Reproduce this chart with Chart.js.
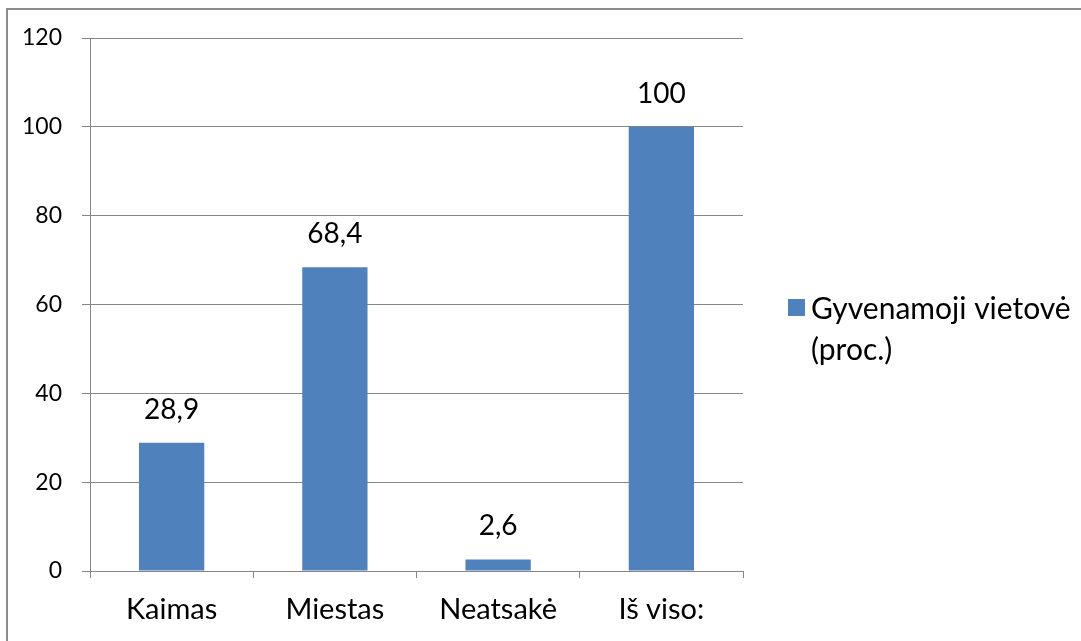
<!DOCTYPE html>
<html><head><meta charset="utf-8">
<script src="https://cdn.jsdelivr.net/npm/chart.js@4/dist/chart.umd.min.js"></script>
<style>html,body{margin:0;padding:0;background:#fff;overflow:hidden}#wrap{position:relative;width:1081px;height:641px}</style>
</head><body><div id="wrap"><canvas id="c" width="1081" height="641"></canvas></div>
<script>
const categories = ['Kaimas', 'Miestas', 'Neatsakė', 'Iš viso:'];
const values = [28.9, 68.4, 2.6, 100];
const valueLabels = ['28,9', '68,4', '2,6', '100'];
const seriesLabel = ['Gyvenamoji vietovė', '(proc.)'];
const yMin = 0, yMax = 120, yStep = 20;

const FONT = 'Lato';
const BAR = '#4f81bd';
const GRID = '#868686';

const framePlugin = {
  id: 'frame',
  beforeDraw(chart) {
    const ctx = chart.ctx;
    ctx.save();
    ctx.fillStyle = '#fff';
    ctx.fillRect(0, 0, chart.width, chart.height);
    ctx.strokeStyle = '#8c8c8c';
    ctx.lineWidth = 2;
    ctx.beginPath();
    ctx.moveTo(7, chart.height);
    ctx.lineTo(7, 9);
    ctx.lineTo(chart.width, 9);
    ctx.stroke();
    ctx.restore();
  }
};

const labelPlugin = {
  id: 'valLabels',
  afterDatasetsDraw(chart) {
    const ctx = chart.ctx;
    const meta = chart.getDatasetMeta(0);
    ctx.save();
    ctx.fillStyle = '#000';
    ctx.font = '28px ' + FONT;
    ctx.textAlign = 'center';
    ctx.textBaseline = 'middle';
    meta.data.forEach((bar, i) => {
      ctx.fillText(valueLabels[i], bar.x, bar.y - 33);
    });
    ctx.restore();
  }
};

const legendPlugin = {
  id: 'customLegend',
  afterDraw(chart) {
    const ctx = chart.ctx;
    ctx.save();
    ctx.fillStyle = BAR;
    ctx.fillRect(788, 299, 17, 17);
    ctx.fillStyle = '#000';
    ctx.font = '30px ' + FONT;
    ctx.textAlign = 'left';
    ctx.textBaseline = 'middle';
    ctx.fillText(seriesLabel[0], 811, 309);
    ctx.fillText(seriesLabel[1], 811, 350);
    ctx.restore();
  }
};

new Chart(document.getElementById('c'), {
  type: 'bar',
  data: {
    labels: categories,
    datasets: [{
      label: seriesLabel.join(' '),
      data: values,
      backgroundColor: BAR,
      borderWidth: 0,
      categoryPercentage: 1,
      barPercentage: 0.4
    }]
  },
  options: {
    responsive: false,
    animation: false,
    layout: { padding: { top: 38, right: 338, left: 0, bottom: 0 } },
    plugins: { legend: { display: false }, tooltip: { enabled: false } },
    scales: {
      x: {
        grid: { offset: true, drawOnChartArea: false, drawTicks: true, tickLength: 7, color: GRID, lineWidth: 1 },
        border: { color: GRID, width: 1 },
        ticks: { color: '#000', font: { family: FONT, size: 29 }, padding: 14, maxRotation: 0 },
        afterFit(s) { s.height = 70; }
      },
      y: {
        min: yMin, max: yMax,
        grid: { color: GRID, tickLength: 8, lineWidth: 1 },
        border: { color: GRID, width: 1 },
        ticks: { stepSize: yStep, color: '#000', font: { family: FONT, size: 23 }, padding: 20 },
        afterFit(s) { s.width = 90; }
      }
    }
  },
  plugins: [framePlugin, labelPlugin, legendPlugin]
});
</script>
</body></html>
